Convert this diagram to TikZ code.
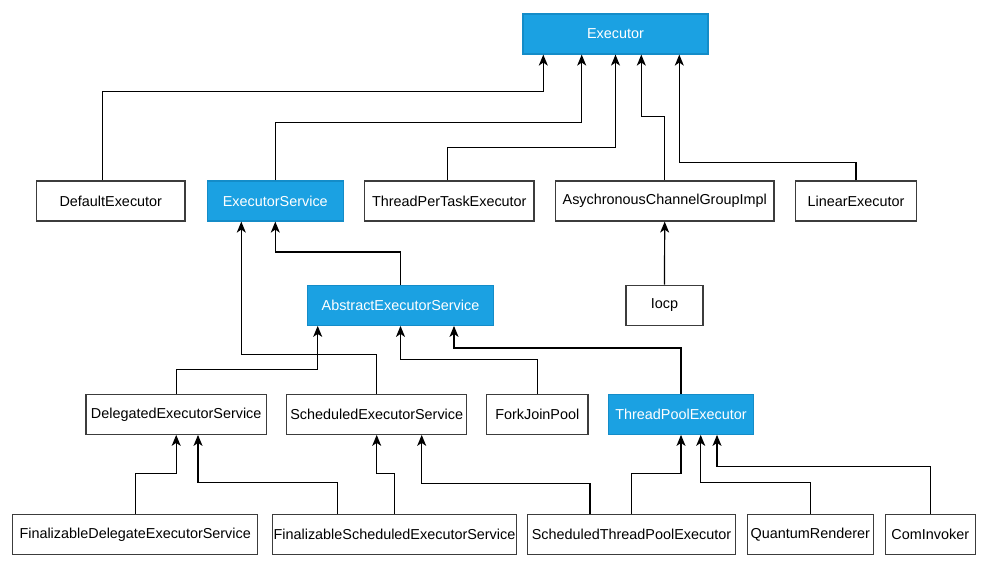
\documentclass[tikz,border=0pt]{standalone}
\usepackage{fontspec}
\setmainfont{Liberation Sans}
\usetikzlibrary{arrows.meta}
\definecolor{ifblue}{RGB}{27,161,226}
\definecolor{ifedge}{RGB}{20,140,200}
\definecolor{boxedge}{RGB}{60,60,60}
\tikzset{
    every node/.style={
        text=black,
        font=\fontsize{14.4}{17}\selectfont
    },
    every path/.style={
        color=black,
        line width=1.2pt
    }
}
\tikzstyle{cls}=[draw=boxedge, fill=white, minimum height=40pt, inner xsep=0pt, inner ysep=0pt]
\tikzstyle{iface}=[cls, draw=ifedge, fill=ifblue, text=white]
\tikzstyle{arr}=[-{Stealth[length=11pt,width=9pt,inset=3pt]}]

\begin{document}
\begin{tikzpicture}[x=1pt,y=1pt]
\useasboundingbox (0,0) rectangle (983,576);

\node[iface, minimum width=185pt] (ex) at (615.5,542) {Executor};

\node[cls, minimum width=148.3pt] (de) at (110.8,375) {DefaultExecutor};
\node[iface, minimum width=136pt] (es) at (275.3,375) {ExecutorService};
\node[cls, minimum width=169.3pt] (tpt) at (449.3,375) {ThreadPerTaskExecutor};
\node[cls, minimum width=218.7pt] (acg) at (664.7,375) {AsychronousChannelGroupImpl};
\node[cls, minimum width=121.3pt] (le) at (856,375) {LinearExecutor};

\node[iface, minimum width=185.7pt] (aes) at (400.5,270.7) {AbstractExecutorService};
\node[cls, minimum width=77pt] (iocp) at (664.5,270.7) {Iocp};

\node[cls, minimum width=180.3pt] (des) at (176.2,161.7) {DelegatedExecutorService};
\node[cls, minimum width=180pt] (ses) at (376.7,161.7) {ScheduledExecutorService};
\node[cls, minimum width=101.3pt] (fjp) at (537.3,161.7) {ForkJoinPool};
\node[iface, minimum width=145.3pt] (tpe) at (681,161.7) {ThreadPoolExecutor};

\node[cls, minimum width=245pt] (fdes) at (135.2,41.5) {FinalizableDelegateExecutorService};
\node[cls, minimum width=244.3pt] (fses) at (394.5,41.5) {FinalizableScheduledExecutorService};
\node[cls, minimum width=207.7pt] (stpe) at (631.5,41.5) {ScheduledThreadPoolExecutor};
\node[cls, minimum width=126pt] (qr) at (810.3,41.5) {QuantumRenderer};
\node[cls, minimum width=90pt] (ci) at (930.3,41.5) {ComInvoker};

% Executor
\draw[arr] ([xshift=-8.1pt]de.north) -- ++(0,89) -| ([xshift=-72.2pt]ex.south);
\draw[arr] (es.north) -- ++(0,57.7) -| ([xshift=-33.8pt]ex.south);
\draw[arr] ([xshift=-2pt]tpt.north) -- ++(0,32.7) -| (ex.south);
\draw[arr] (acg.north) -- ++(0,63.7) -| ([xshift=25.8pt]ex.south);
\draw[arr] (le.north) -- ++(0,18) -| ([xshift=63.8pt]ex.south);
\draw[arr] (iocp.north) -- (acg.south);

% ExecutorService
\draw[arr] (aes.north) -- ++(0,32.6) -| (es.south);
\draw[arr] (ses.north) -- ++(0,39) -| ([xshift=-34pt]es.south);

% AbstractExecutorService
\draw[arr] (des.north) -- ++(0,24) -| ([xshift=-82.8pt]aes.south);
\draw[arr] (fjp.north) -- ++(0,34.3) -| (aes.south);
\draw[arr] (tpe.north) -- ++(0,45.6) -| ([xshift=53.5pt]aes.south);

% bottom row
\draw[arr] (fdes.north) -- ++(0,40.7) -| (des.south);
\draw[arr] ([xshift=-57.2pt]fses.north) -- ++(0,31.4) -| ([xshift=21.8pt]des.south);
\draw[arr] (fses.north) -- ++(0,40.7) -| (ses.south);
\draw[arr] ([xshift=-41.5pt]stpe.north) -- ++(0,30) -| ([xshift=45pt]ses.south);
\draw[arr] (stpe.north) -- ++(0,40.7) -| (tpe.south);
\draw[arr] (qr.north) -- ++(0,31.4) -| ([xshift=19.7pt]tpe.south);
\draw[arr] (ci.north) -- ++(0,47) -| ([xshift=36pt]tpe.south);

\end{tikzpicture}
\end{document}
